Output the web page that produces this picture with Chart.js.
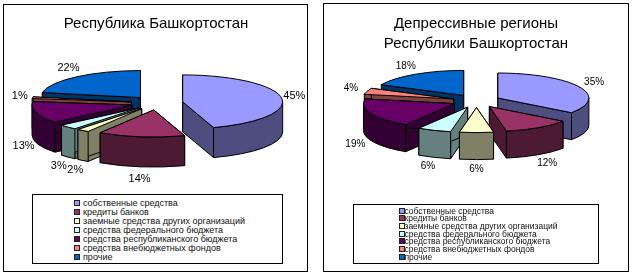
<!DOCTYPE html>
<html lang="ru">
<head>
<meta charset="utf-8">
<title>Структура источников финансирования</title>
<script src="https://cdn.jsdelivr.net/npm/chart.js@4"></script>
<style>
    html, body { margin: 0; padding: 0; background: #fff; }
    body { position: relative; width: 632px; height: 276px; overflow: hidden; font-family: "Liberation Sans", Arial, sans-serif; }
    canvas { position: absolute; top: 0; }
    .frame, .legend { position: absolute; box-sizing: border-box; border: 1px solid #000; }
    .legend { background: #fff; }
    .legend div { position: absolute; white-space: nowrap; color: #111; }
    .legend i { position: absolute; box-sizing: border-box; border: 1px solid #222; width: 6px; height: 6px; }
</style>
</head>
<body>
<div class="frame" style="left:3px;top:4px;width:305px;height:268px"></div>
<div class="frame" style="left:323px;top:3px;width:306px;height:269px"></div>
<canvas id="chartRB" width="312" height="276" style="left:0"></canvas>
<canvas id="chartDR" width="312" height="276" style="left:320px"></canvas>
<div class="legend" id="legendRB" style="left:32px;top:194px;width:251px;height:70px"></div>
<div class="legend" id="legendDR" style="left:353px;top:204px;width:246px;height:60px"></div>
<script>
const categorias = [
    "собственные средства",
    "кредиты банков",
    "заемные средства других организаций",
    "средства федерального бюджета",
    "средства республиканского бюджета",
    "средства внебюджетных фондов",
    "прочие"
];
const valoresRB = [45, 14, 2, 3, 13, 1, 22];
const valoresDR = [35, 12, 6, 6, 19, 4, 18];
const coresTopo = ["#9999ff", "#993366", "#ffffcc", "#ccffff", "#660066", "#ff8080", "#0066cc"];
const coresLado = ["#4d4d80", "#4d1a33", "#808066", "#668080", "#330033", "#804040", "#003366"];
const tituloRB = "Республика Башкортостан";
const tituloDR = ["Депрессивные регионы", "Республики Башкортостан"];

// Pizza 3D: os ângulos vêm dos arcos do Chart.js, aqui só desenha achatado
const pie3d = {
    id: "pie3d",
    beforeDatasetsDraw(chart, args, opts) {
        const ctx = chart.ctx;
        const arcs = chart.getDatasetMeta(0).data;
        const fatias = arcs.map((arc, i) => {
            const meio = (arc.startAngle + arc.endAngle) / 2;
            return {
                i,
                ini: arc.startAngle,
                fim: arc.endAngle,
                meio,
                x: opts.cx + Math.cos(meio) * opts.explode,
                y: opts.cy + Math.sin(meio) * opts.explode * opts.ry / opts.rx
            };
        });

        // de trás para frente
        const ordem = fatias.slice().sort((a, b) => Math.sin(a.meio) - Math.sin(b.meio));
        ctx.save();
        ctx.strokeStyle = "#000";
        ctx.lineWidth = 1;
        ctx.lineJoin = "round";
        ordem.forEach(f => desenhaFatia(ctx, f, opts));

        // rótulos em %
        ctx.fillStyle = "#000";
        ctx.font = opts.fonteRotulo + 'px "Liberation Sans", Arial, sans-serif';
        ctx.textAlign = "center";
        ctx.textBaseline = "middle";
        fatias.forEach(f => {
            const frente = Math.sin(f.meio) > 0 ? opts.depth : 0;
            const lx = f.x + Math.cos(f.meio) * (opts.rx + opts.folgaX);
            const ly = f.y + Math.sin(f.meio) * (opts.ry + opts.folgaY) + frente;
            ctx.fillText(chart.data.datasets[0].data[f.i] + "%", lx, ly);
        });
        ctx.restore();
        return false;
    }
};

function desenhaFatia(ctx, f, o) {
    const pontoX = a => f.x + Math.cos(a) * o.rx;
    const pontoY = a => f.y + Math.sin(a) * o.ry;
    const lado = coresLado[f.i];

    // paredes radiais
    [f.ini, f.fim].forEach(a => {
        ctx.beginPath();
        ctx.moveTo(f.x, f.y);
        ctx.lineTo(pontoX(a), pontoY(a));
        ctx.lineTo(pontoX(a), pontoY(a) + o.depth);
        ctx.lineTo(f.x, f.y + o.depth);
        ctx.closePath();
        ctx.fillStyle = lado;
        ctx.fill();
        ctx.stroke();
    });

    // parede externa, só a metade da frente aparece
    const a = Math.max(f.ini, 0);
    const b = Math.min(f.fim, Math.PI);
    if (a < b) {
        ctx.beginPath();
        ctx.ellipse(f.x, f.y, o.rx, o.ry, 0, a, b);
        ctx.ellipse(f.x, f.y + o.depth, o.rx, o.ry, 0, b, a, true);
        ctx.closePath();
        ctx.fillStyle = lado;
        ctx.fill();
        ctx.stroke();
    }

    // tampa
    ctx.beginPath();
    ctx.moveTo(f.x, f.y);
    ctx.ellipse(f.x, f.y, o.rx, o.ry, 0, f.ini, f.fim);
    ctx.closePath();
    ctx.fillStyle = coresTopo[f.i];
    ctx.fill();
    ctx.stroke();
}

function criaGrafico(id, valores, titulo, geo) {
    return new Chart(document.getElementById(id), {
        type: "pie",
        data: {
            labels: categorias,
            datasets: [{ data: valores, backgroundColor: coresTopo }]
        },
        options: {
            responsive: false,
            animation: false,
            plugins: {
                legend: { display: false },
                tooltip: { enabled: false },
                title: {
                    display: true,
                    text: titulo,
                    color: "#000",
                    font: { family: '"Liberation Sans", Arial, sans-serif', size: 15, weight: "normal", lineHeight: 1.33 },
                    padding: { top: 14, bottom: 0 }
                },
                pie3d: geo
            }
        },
        plugins: [pie3d]
    });
}

// Legenda em HTML, a partir dos rótulos do gráfico
function criaLegenda(id, chart, leg) {
    const box = document.getElementById(id);
    chart.data.labels.forEach((nome, i) => {
        const y = leg.y0 + i * leg.passo;
        const linha = document.createElement("div");
        linha.style.cssText = `left:${leg.xTexto}px;top:${y - 6}px;font-size:${leg.fonte}px;line-height:12px`;
        linha.textContent = nome;
        const q = document.createElement("i");
        q.style.cssText = `left:${leg.xCaixa}px;top:${y - 3}px;background:${coresTopo[i]}`;
        box.appendChild(q);
        box.appendChild(linha);
    });
}

const graficoRB = criaGrafico("chartRB", valoresRB, tituloRB, { cx: 157, cy: 103, rx: 100, ry: 27, depth: 30, explode: 26, fonteRotulo: 11, folgaX: 13, folgaY: 12 });
const graficoDR = criaGrafico("chartDR", valoresDR, tituloDR, { cx: 156.5, cy: 101, rx: 91, ry: 25, depth: 27, explode: 24, fonteRotulo: 10, folgaX: 17, folgaY: 10 });
criaLegenda("legendRB", graficoRB, { y0: 7.5, passo: 9.05, xCaixa: 41, xTexto: 50, fonte: 9 });
criaLegenda("legendDR", graficoDR, { y0: 5.5, passo: 7.67, xCaixa: 45, xTexto: 50.5, fonte: 8.5 });
</script>
</body>
</html>
